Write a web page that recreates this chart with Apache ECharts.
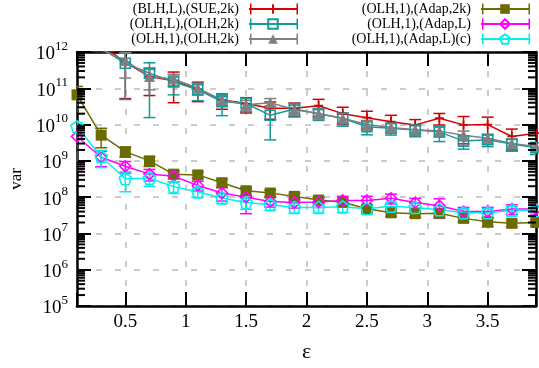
<!DOCTYPE html>
<html><head><meta charset="utf-8">
<script src="https://cdn.jsdelivr.net/npm/echarts@6/dist/echarts.min.js"></script>
<style>html,body{margin:0;padding:0;background:#fff}#c{width:539px;height:368px}</style>
</head><body><div id="c"></div>
<script>
// ---- data ----
const eps = [0.1,0.3,0.5,0.7,0.9,1.1,1.3,1.5,1.7,1.9,2.1,2.3,2.5,2.7,2.9,3.1,3.3,3.5,3.7,3.9];
const seriesNames = ['(BLH,L),(SUE,2k)','(OLH,L),(OLH,2k)','(OLH,1),(OLH,2k)','(OLH,1),(Adap,2k)','(OLH,1),(Adap,L)','(OLH,1),(Adap,L)(c)'];
const xTickLabels = ['0.5','1','1.5','2','2.5','3','3.5'];
const yTickExponents = [5,6,7,8,9,10,11,12];

const blhSueVals = [1e13,1.6e12,5.2e11,2.1e11,1.6e11,9.5e10,4.8e10,3.8e10,2.8e10,2.8e10,3.3e10,2.0e10,1.55e10,1.2e10,9.8e9,1.5e10,9.8e9,1.0e10,4.7e9,5.8e9];
const blhSueErr  = [0.5,0.15,0.9,0.7,0.75,0.55,0.45,0.45,0.5,0.4,0.5,0.5,0.5,0.5,0.4,0.35,0.7,0.6,0.6,0.5];
const olhLVals   = [1e13,1.26e12,4.9e11,2.6e11,1.5e11,9.1e10,4.3e10,3.8e10,1.8e10,2.7e10,2.0e10,1.5e10,8.7e9,7.9e9,7.1e9,6.3e9,3.5e9,3.8e9,2.9e9,2.3e9];
const olhLErr    = [0.5,0.15,0.9,0.94,0.56,0.5,0.59,0.4,0.79,0.4,0.35,0.4,0.4,0.35,0.35,0.46,0.4,0.35,0.35,0.35];
const olh1Vals   = [1e13,1.17e12,5.8e11,2.1e11,1.8e11,1.0e11,4.8e10,3.5e10,4.0e10,2.6e10,2.0e10,1.5e10,1.0e10,8.3e9,7.2e9,6.6e9,5.1e9,4.2e9,3.0e9,2.5e9];
const olh1Err    = [0.4,0.12,0.67,0.57,0.35,0.35,0.3,0.32,0.3,0.3,0.28,0.3,0.3,0.3,0.28,0.3,0.3,0.3,0.3,0.3];
const adap2kVals = [6.6e10,5.1e9,1.8e9,1.0e9,4.3e8,4.1e8,2.5e8,1.5e8,1.3e8,1.05e8,8.3e7,7.2e7,4.8e7,3.7e7,3.5e7,3.6e7,2.6e7,2.1e7,1.9e7,2.0e7];
const adap2kErr  = [0.7,0.55,0.3,0.3,0.25,0.2,0.25,0.25,0.2,0.2,0.2,0.2,0.2,0.2,0.2,0.2,0.2,0.28,0.2,0.2];
const adapLVals  = [4.7e9,1.26e9,7.1e8,4.3e8,3.8e8,2.1e8,1.3e8,1.0e8,7.6e7,7.1e7,7.4e7,8.1e7,8.1e7,9.3e7,7.1e7,5.8e7,4.0e7,4.0e7,4.7e7,4.7e7];
const adapLErr   = [0.89,0.45,0.35,0.35,0.3,0.3,0.4,0.65,0.3,0.3,0.3,0.3,0.3,0.3,0.3,0.55,0.3,0.3,0.3,0.3];
const adapLcVals = [8.7e9,1.3e9,3.2e8,3.3e8,1.95e8,1.4e8,9.5e7,7.1e7,6.2e7,5.2e7,5.2e7,5.4e7,4.8e7,5.6e7,5.2e7,4.5e7,3.7e7,3.7e7,4.3e7,4.3e7];
const adapLcErr  = [0.3,0.5,0.56,0.4,0.35,0.3,0.3,0.35,0.3,0.3,0.3,0.3,0.3,0.3,0.3,0.3,0.3,0.3,0.3,0.3];

// ---- chart ----
const FONT = 'Liberation Serif';
const X_MIN = 0.1, X_MAX = 3.9, Y_MIN = 1e5, Y_MAX = 1e12;
const plusPath = 'path://M4,0h2v10h-2z M0,4h10v2h-10z';
const pentPath = 'path://M50,0 L97.6,34.5 L79.4,90.5 L20.6,90.5 L2.4,34.5 Z';

const defs = [
  {name: seriesNames[0], vals: blhSueVals, err: blhSueErr, color: '#d40000', symbol: plusPath, size: 9, hollow: false},
  {name: seriesNames[1], vals: olhLVals, err: olhLErr, color: '#149a9a', symbol: 'rect', size: 10, hollow: true},
  {name: seriesNames[2], vals: olh1Vals, err: olh1Err, color: '#808080', symbol: 'triangle', size: 11, hollow: false},
  {name: seriesNames[3], vals: adap2kVals, err: adap2kErr, color: '#6b6b00', symbol: 'rect', size: 11, hollow: false},
  {name: seriesNames[4], vals: adapLVals, err: adapLErr, color: '#ff00ff', symbol: 'diamond', size: 11, hollow: true},
  {name: seriesNames[5], vals: adapLcVals, err: adapLcErr, color: '#00f0f0', symbol: pentPath, size: 12, hollow: true}
];

function errRender(color) {
  return function (params, api) {
    const x = api.value(0), v = api.value(1), r = api.value(2);
    let lo = v * (1 - r);
    if (!(lo > 0)) lo = Y_MIN / 10;
    const hi = v * (1 + r);
    const pl = api.coord([x, lo]);
    const ph = api.coord([x, hi]);
    const w = 6;
    const style = {stroke: color, lineWidth: 1.5, fill: null};
    return {type: 'group', children: [
      {type: 'line', shape: {x1: pl[0], y1: pl[1], x2: ph[0], y2: ph[1]}, style: style},
      {type: 'line', shape: {x1: pl[0] - w, y1: pl[1], x2: pl[0] + w, y2: pl[1]}, style: style},
      {type: 'line', shape: {x1: ph[0] - w, y1: ph[1], x2: ph[0] + w, y2: ph[1]}, style: style}
    ]};
  };
}

const series = [];
defs.forEach(function (d) {
  series.push({
    type: 'custom', name: d.name + ' err', silent: true, clip: true, animation: false,
    data: eps.map((x, i) => [x, d.vals[i], d.err[i]]),
    encode: {x: 0, y: 1},
    renderItem: errRender(d.color)
  });
  series.push({
    type: 'line', name: d.name, animation: false, clip: true,
    data: eps.map((x, i) => [x, d.vals[i]]),
    symbol: d.symbol, symbolSize: d.size, showAllSymbol: true,
    lineStyle: {color: d.color, width: 1.5},
    itemStyle: d.hollow ? {color: 'rgba(0,0,0,0)', borderColor: d.color, borderWidth: 1.6}
                        : {color: d.color, borderWidth: 0},
    emphasis: {disabled: true}
  });
});

// minor log ticks (2..9 x 10^n) on left and right frame edges
const minorVals = [];
for (let e = 5; e < 12; e++) for (let k = 2; k <= 9; k++) minorVals.push(k * Math.pow(10, e));
series.push({
  type: 'custom', name: 'minor ticks', silent: true, clip: false, animation: false, z: 5,
  data: minorVals.map(v => [X_MIN, v]),
  encode: {x: 0, y: 1},
  renderItem: function (params, api) {
    const p = api.coord([X_MIN, api.value(1)]);
    const cs = params.coordSys;
    const style = {stroke: '#000', lineWidth: 2};
    return {type: 'group', children: [
      {type: 'line', shape: {x1: cs.x, y1: p[1], x2: cs.x + 8, y2: p[1]}, style: style},
      {type: 'line', shape: {x1: cs.x + cs.width - 8, y1: p[1], x2: cs.x + cs.width, y2: p[1]}, style: style}
    ]};
  }
});

function xLabel(v) {
  for (const s of xTickLabels) if (Math.abs(parseFloat(s) - v) < 1e-6) return s;
  return '';
}
function yLabel(v) {
  const e = Math.round(Math.log10(v));
  if (yTickExponents.indexOf(e) < 0) return '';
  return '{b|10}{s|' + e + '}';
}

const axisLineStyle = {color: '#000', width: 2.5};
const tickStyle = {color: '#000', width: 2};
const gridLine = {show: true, lineStyle: {type: [6, 13], color: '#bbbbbb', width: 1.5}};

// legend sample end caps (decoration, matching the error-bar style of the samples)
const LEG_TOP = 2, LEG_ROW = 15, LEG_W = 48;
const legendCols = [{right: 241, colors: defs.slice(0, 3).map(d => d.color)},
                    {right: 9, colors: defs.slice(3).map(d => d.color)}];
const capGraphics = [];
legendCols.forEach(function (col) {
  const xr = 539 - col.right, xl = xr - LEG_W;
  col.colors.forEach(function (c, i) {
    const yc = LEG_TOP + 7 + i * LEG_ROW;
    [xl + 0.75, xr - 0.75].forEach(function (x) {
      capGraphics.push({type: 'line', silent: true, z: 10,
        shape: {x1: x, y1: yc - 5.5, x2: x, y2: yc + 5.5},
        style: {stroke: c, lineWidth: 1.5}});
    });
  });
});

const legendCommon = {
  orient: 'vertical', top: LEG_TOP, align: 'right', padding: 0,
  itemWidth: LEG_W, itemHeight: 12, itemGap: 1, selectedMode: false,
  textStyle: {fontFamily: FONT, fontSize: 14, lineHeight: 14, color: '#000', padding: [0, 5, 0, 0]}
};

const option = {
  backgroundColor: '#fff',
  animation: false,
  grid: {left: 72, right: -2, top: 52, bottom: 62, containLabel: false},
  legend: [
    Object.assign({data: seriesNames.slice(0, 3), right: 241}, legendCommon),
    Object.assign({data: seriesNames.slice(3), right: 9}, legendCommon)
  ],
  graphic: capGraphics,
  xAxis: [
    {
      type: 'value', min: X_MIN, max: X_MAX, splitNumber: 8, position: 'bottom',
      axisLine: {show: true, onZero: false, lineStyle: axisLineStyle},
      axisTick: {show: true, inside: true, length: 14, lineStyle: tickStyle},
      axisLabel: {formatter: xLabel, fontFamily: FONT, fontSize: 19, color: '#000', margin: 7},
      splitLine: gridLine,
      name: 'ε', nameLocation: 'middle', nameGap: 35,
      nameTextStyle: {fontFamily: FONT, fontSize: 22, color: '#000'}
    },
    {
      type: 'value', min: X_MIN, max: X_MAX, splitNumber: 8, position: 'top',
      axisLine: {show: true, onZero: false, lineStyle: axisLineStyle},
      axisTick: {show: true, inside: true, length: 14, lineStyle: tickStyle},
      axisLabel: {show: false}, splitLine: {show: false}
    }
  ],
  yAxis: [
    {
      type: 'log', logBase: 10, min: Y_MIN, max: Y_MAX, splitNumber: 7, position: 'left',
      axisLine: {show: true, onZero: false, lineStyle: axisLineStyle},
      axisTick: {show: true, inside: true, length: 14, lineStyle: tickStyle},
      axisLabel: {
        formatter: yLabel, margin: 9,
        rich: {
          b: {fontFamily: FONT, fontSize: 19, color: '#000', lineHeight: 24, verticalAlign: 'bottom'},
          s: {fontFamily: FONT, fontSize: 13, color: '#000', lineHeight: 12, verticalAlign: 'top'}
        }
      },
      splitLine: gridLine,
      name: 'var', nameLocation: 'middle', nameGap: 52,
      nameTextStyle: {fontFamily: FONT, fontSize: 17, color: '#000'}
    },
    {
      type: 'log', logBase: 10, min: Y_MIN, max: Y_MAX, splitNumber: 7, position: 'right',
      axisLine: {show: true, onZero: false, lineStyle: axisLineStyle},
      axisTick: {show: true, inside: true, length: 14, lineStyle: tickStyle},
      axisLabel: {show: false}, splitLine: {show: false}
    }
  ],
  series: series
};

const chart = echarts.init(document.getElementById('c'), null, {renderer: 'canvas'});
chart.setOption(option);
</script>
</body></html>
